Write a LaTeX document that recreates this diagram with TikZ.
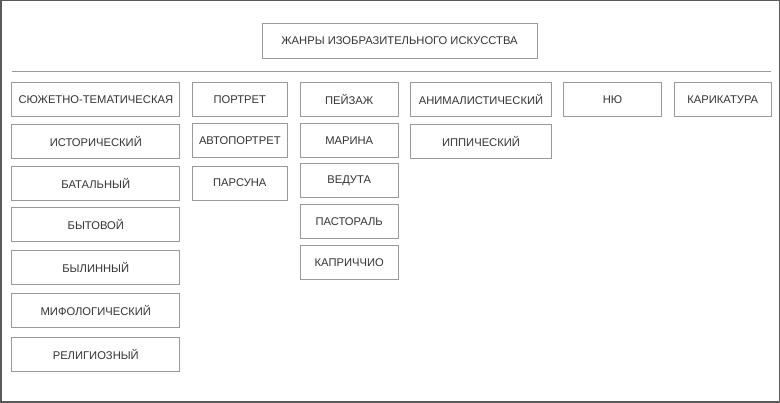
\documentclass[tikz,border=0pt]{standalone}
\usepackage{fontspec}
\setmainfont{Liberation Sans}
\usepackage{xcolor}
\definecolor{boxline}{HTML}{9A9A9A}
\definecolor{boxtext}{HTML}{333333}
\definecolor{frameline}{HTML}{5A5A5A}

\begin{document}
\begin{tikzpicture}[x=1pt, y=-1pt,
    genre/.style={draw=boxline, line width=0.9pt, text=boxtext, font=\fontsize{11.2}{13}\selectfont,
                  minimum height=34pt, inner sep=0pt, anchor=center}]
    \useasboundingbox (0,0) rectangle (780,403);
    \draw[frameline, line width=1.5pt] (0.75,0.75) rectangle (779.25,402.25);

    % Title
    \node[genre, minimum width=275pt, minimum height=35pt] (title) at (399.5,40.7) {ЖАНРЫ ИЗОБРАЗИТЕЛЬНОГО ИСКУССТВА};
    \draw[boxline, line width=1pt] (11.7,71.7) -- (771,71.7);

    % Subject-thematic
    \node[genre, minimum width=168pt] (sujet) at (95.8,99.7) {СЮЖЕТНО-ТЕМАТИЧЕСКАЯ};
    \node[genre, minimum width=168pt] (hist) at (95.8,141.3) {ИСТОРИЧЕСКИЙ};
    \node[genre, minimum width=168pt] (battle) at (95.8,183) {БАТАЛЬНЫЙ};
    \node[genre, minimum width=168pt] (daily) at (95.8,224.8) {БЫТОВОЙ};
    \node[genre, minimum width=168pt] (bylina) at (95.8,267.8) {БЫЛИННЫЙ};
    \node[genre, minimum width=168pt] (myth) at (95.8,310.5) {МИФОЛОГИЧЕСКИЙ};
    \node[genre, minimum width=168pt] (relig) at (95.8,354.5) {РЕЛИГИОЗНЫЙ};

    % Portrait
    \node[genre, minimum width=95pt] (portrait) at (239.8,99.7) {ПОРТРЕТ};
    \node[genre, minimum width=95pt] (selfportr) at (239.8,140.5) {АВТОПОРТРЕТ};
    \node[genre, minimum width=95pt] (parsuna) at (239.8,183) {ПАРСУНА};

    % Landscape
    \node[genre, minimum width=98pt] (landscape) at (349.2,99.7) {ПЕЙЗАЖ};
    \node[genre, minimum width=98pt] (marina) at (349.2,140.5) {МАРИНА};
    \node[genre, minimum width=98pt] (veduta) at (349.2,180.8) {ВЕДУТА};
    \node[genre, minimum width=98pt] (pastoral) at (349.2,221.5) {ПАСТОРАЛЬ};
    \node[genre, minimum width=98pt] (capriccio) at (349.2,262.5) {КАПРИЧЧИО};

    % Animals
    \node[genre, minimum width=140.5pt] (animal) at (481,99.7) {АНИМАЛИСТИЧЕСКИЙ};
    \node[genre, minimum width=140.5pt] (horse) at (481,141.3) {ИППИЧЕСКИЙ};

    % Nude, caricature
    \node[genre, minimum width=98.4pt] (nude) at (612.5,99.7) {НЮ};
    \node[genre, minimum width=97.7pt] (caricature) at (722.8,99.7) {КАРИКАТУРА};
\end{tikzpicture}
\end{document}
